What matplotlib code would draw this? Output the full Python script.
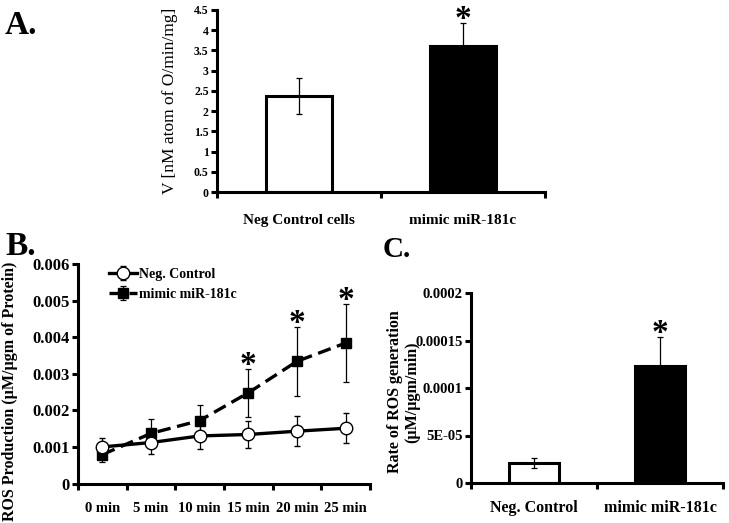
import numpy as np
import matplotlib
matplotlib.use("Agg")
import matplotlib.pyplot as plt

plt.rcParams["font.family"] = ["Liberation Serif", "DejaVu Serif"]

# ---------------------------------------------------------------------------
# Dane
# ---------------------------------------------------------------------------
a_groups = ["Neg Control cells", "mimic miR-181c"]
a_values = [2.38, 3.60]
a_errors = [0.44, 0.58]

b_times = ["0 min", "5 min", "10 min", "15 min", "20 min", "25 min"]
b_neg = [0.00100, 0.00112, 0.00130, 0.00134, 0.00143, 0.00151]
b_neg_err = [0.00025, 0.00031, 0.00037, 0.00037, 0.00041, 0.00041]
b_mimic = [0.00079, 0.00137, 0.00172, 0.00248, 0.00334, 0.00384]
b_mimic_err = [0.00019, 0.00038, 0.00042, 0.00065, 0.00095, 0.00107]
b_signif = [False, False, False, True, True, True]

c_groups = ["Neg. Control", "mimic miR-181c"]
c_values = [0.0000210, 0.000123]
c_errors = [0.0000052, 0.000031]

W, H = 729, 523
fig = plt.figure(figsize=(W / 100, H / 100), dpi=100)


def px_axes(left, right, top, bottom):
    return fig.add_axes([left / W, 1 - bottom / H, (right - left) / W, (bottom - top) / H])


def style_axes(ax, lw=2.2):
    for s in ("top", "right"):
        ax.spines[s].set_visible(False)
    for s in ("left", "bottom"):
        ax.spines[s].set_linewidth(lw)
        ax.spines[s].set_color("black")
    ax.tick_params(axis="y", direction="out", width=lw, length=4, pad=2)


def category_ticks(ax, n):
    # kreski na granicach kategorii, etykiety na środkach
    ax.set_xticks(np.arange(n + 1) - 0.5)
    ax.set_xticklabels([])
    ax.set_xticks(np.arange(n), minor=True)
    ax.tick_params(axis="x", which="major", direction="out", width=2.2, length=4)
    ax.tick_params(axis="x", which="minor", length=0)
    ax.set_xlim(-0.5, n - 0.5)


def star(ax, x, y):
    ax.annotate("*", (x, y), xytext=(0, -9), textcoords="offset points",
                ha="center", va="bottom", fontsize=24, fontweight="bold")


# ---------------------------------------------------------------------------
# A
# ---------------------------------------------------------------------------
ax = px_axes(217, 545, 10, 192)
style_axes(ax)
x = np.arange(len(a_groups))
ax.bar(x, a_values, width=0.4, color=["white", "black"], edgecolor="black", linewidth=2.2)
ax.errorbar(x, a_values, yerr=a_errors, fmt="none", ecolor="black", elinewidth=0.9, capsize=2.5, capthick=0.9)
ax.set_ylim(0, 4.5)
ax.set_yticks(np.arange(0, 4.51, 0.5))
ax.set_yticklabels(["0", "0.5", "1", "1.5", "2", "2.5", "3", "3.5", "4", "4.5"], fontsize=8.5, fontweight="bold")
category_ticks(ax, len(a_groups))
ax.set_xticklabels(a_groups, minor=True, fontsize=11, fontweight="bold")
ax.tick_params(axis="x", which="minor", pad=16)
ax.set_ylabel("V [nM atom of O/min/mg]", fontsize=12.5)
ax.yaxis.set_label_coords((178 - 217) / 328, 0.5)
star(ax, 1, a_values[1] + a_errors[1])
fig.text(5 / W, 1 - 34 / H, "A.", fontsize=24, fontweight="bold", ha="left", va="baseline")

# ---------------------------------------------------------------------------
# B
# ---------------------------------------------------------------------------
ax = px_axes(78, 370, 264, 483.5)
style_axes(ax)
x = np.arange(len(b_times))
ax.errorbar(x, b_mimic, yerr=b_mimic_err, color="black", linestyle=(0, (4, 2)), linewidth=2.4,
            marker="s", markersize=6.5, markerfacecolor="black", markeredgecolor="black",
            ecolor="black", elinewidth=0.9, capsize=2.5, capthick=0.9, label="mimic miR-181c", zorder=2)
ax.errorbar(x, b_neg, yerr=b_neg_err, color="black", linestyle="-", linewidth=2.4,
            marker="o", markersize=9, markerfacecolor="white", markeredgecolor="black", markeredgewidth=1,
            ecolor="black", elinewidth=0.9, capsize=2.5, capthick=0.9, label="Neg. Control", zorder=3)
for xi, m, e, s in zip(x, b_mimic, b_mimic_err, b_signif):
    if s:
        star(ax, xi, m + e)
ax.set_ylim(0, 0.006)
ax.set_yticks(np.arange(0, 0.0061, 0.001))
ax.set_yticklabels(["0", "0.001", "0.002", "0.003", "0.004", "0.005", "0.006"], fontsize=12, fontweight="bold")
category_ticks(ax, len(b_times))
ax.set_xticklabels(b_times, minor=True, fontsize=10.5, fontweight="bold")
ax.tick_params(axis="x", which="minor", pad=13)
ax.set_ylabel("ROS Production (\u00b5M/\u00b5gm of Protein)", fontsize=11.5, fontweight="bold")
ax.yaxis.set_label_coords((18 - 78) / 292, (483.5 - 391) / 219.5)
handles, labels = ax.get_legend_handles_labels()
ax.legend(handles[::-1], labels[::-1], loc="upper left", bbox_to_anchor=(0.065, 1.04), frameon=False,
          prop={"weight": "bold", "size": 10}, handlelength=2.0, handletextpad=0.1, labelspacing=0.5)
fig.text(5 / W, 1 - 255 / H, "B.", fontsize=24, fontweight="bold", ha="left", va="baseline")

# ---------------------------------------------------------------------------
# C
# ---------------------------------------------------------------------------
ax = px_axes(471, 723, 293, 483)
style_axes(ax)
x = np.arange(len(c_groups))
ax.bar(x, c_values, width=0.4, color=["white", "black"], edgecolor="black", linewidth=2.2)
ax.errorbar(x, c_values, yerr=c_errors, fmt="none", ecolor="black", elinewidth=0.9, capsize=2.5, capthick=0.9)
ax.set_ylim(0, 0.0002)
ax.set_yticks([0, 0.00005, 0.0001, 0.00015, 0.0002])
ax.set_yticklabels(["0", "5E-05", "0.0001", "0.00015", "0.0002"], fontsize=10.5, fontweight="bold")
category_ticks(ax, len(c_groups))
ax.set_xticklabels(c_groups, minor=True, fontsize=11.5, fontweight="bold")
ax.tick_params(axis="x", which="minor", pad=12)
ax.set_ylabel("Rate of ROS generation\n(\u00b5M/\u00b5gm/min)", fontsize=11.5, fontweight="bold",
              linespacing=1.1)
ax.yaxis.set_label_coords((420 - 471) / 252, (483 - 392) / 190)
star(ax, 1, c_values[1] + c_errors[1])
fig.text(383 / W, 1 - 257 / H, "C.", fontsize=21, fontweight="bold", ha="left", va="baseline")

fig.savefig("out.png", dpi=100)
